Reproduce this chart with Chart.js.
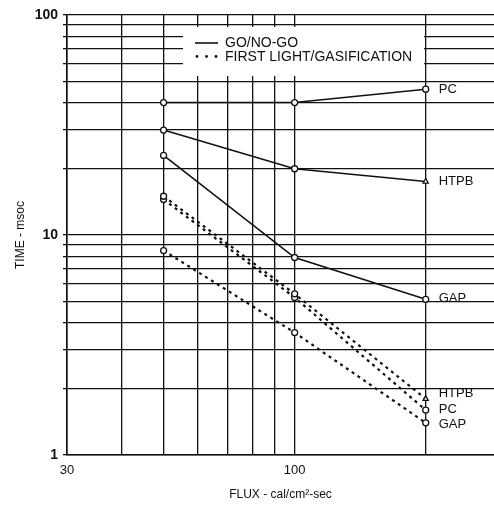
<!DOCTYPE html>
<html>
<head>
<meta charset="utf-8">
<script src="https://cdn.jsdelivr.net/npm/chart.js@4"></script>
<style>
  html, body { margin: 0; padding: 0; background: #fff; }
  canvas { display: block; }
</style>
</head>
<body>
<canvas id="fluxChart" width="494" height="506"></canvas>
<script>
// flux levels (cal/cm2-sec) where times were measured
const flux = [50, 100, 200];

// GO/NO-GO times, msec (solid lines)
const goPC = [40, 40, 46];
const goHTPB = [30, 20, 17.5];
const goGAP = [23, 7.9, 5.1];

// first light / gasification times, msec (dashed lines)
const firstHTPB = [15, 5.4, 1.8];
const firstPC = [14.5, 5.2, 1.6];
const firstGAP = [8.5, 3.6, 1.4];

// grid + tick labels
const xGridValues = [30, 40, 50, 60, 70, 80, 90, 100, 200];
const xTickLabels = [30, 100];
const yGridValues = [1, 2, 3, 4, 5, 6, 7, 8, 9, 10, 20, 30, 40, 50, 60, 70, 80, 90, 100];
const yTickLabels = [1, 10, 100];
const legendLabels = ['GO/NO-GO', 'FIRST LIGHT/GASIFICATION'];

const INK = '#111';
const FONT = '"Liberation Sans", Arial, sans-serif';

function series(name, values, dashed, dy, styles) {
  return {
    label: name,
    data: flux.map((f, i) => ({ x: f, y: values[i] })),
    borderColor: INK,
    borderWidth: dashed ? 2.2 : 1.6,
    borderDash: dashed ? [3, 4] : [],
    pointStyle: styles || 'circle',
    pointRadius: 3,
    pointBackgroundColor: '#fff',
    pointBorderColor: INK,
    pointBorderWidth: 1.3,
    fill: false,
    tension: 0,
    endLabel: name,
    labelDy: dy
  };
}

// draws the legend box and the material names at the line ends
const annotations = {
  id: 'annotations',
  beforeDatasetsDraw(chart) {
    const ctx = chart.ctx;
    ctx.save();
    ctx.fillStyle = '#fff';
    ctx.fillRect(183, 27, 241, 49);
    ctx.restore();
  },
  afterDatasetsDraw(chart) {
    const ctx = chart.ctx;
    const xs = chart.scales.x, ys = chart.scales.y;
    ctx.save();
    ctx.fillStyle = INK;
    ctx.textBaseline = 'middle';
    ctx.font = '13px ' + FONT;
    chart.data.datasets.forEach(ds => {
      const last = ds.data[ds.data.length - 1];
      ctx.fillText(ds.endLabel, xs.getPixelForValue(last.x) + 13, ys.getPixelForValue(last.y) + ds.labelDy);
    });

    // legend
    ctx.strokeStyle = INK;
    ctx.lineWidth = 1.6;
    ctx.beginPath();
    ctx.moveTo(195, 43);
    ctx.lineTo(218, 43);
    ctx.stroke();
    [197, 206.5, 216].forEach(x => {
      ctx.beginPath();
      ctx.arc(x, 56.5, 1.4, 0, Math.PI * 2);
      ctx.fill();
    });
    ctx.font = '14px ' + FONT;
    ctx.fillText(legendLabels[0], 225, 43);
    ctx.fillText(legendLabels[1], 225, 57);
    ctx.restore();
  }
};

const ctx = document.getElementById('fluxChart');
new Chart(ctx, {
  type: 'line',
  data: {
    datasets: [
      series('PC', goPC, false, 0),
      series('HTPB', goHTPB, false, 0, ['circle', 'circle', 'triangle']),
      series('GAP', goGAP, false, -1),
      series('HTPB', firstHTPB, true, -5, ['circle', 'circle', 'triangle']),
      series('PC', firstPC, true, -1),
      series('GAP', firstGAP, true, 2)
    ]
  },
  options: {
    responsive: false,
    animation: false,
    layout: { autoPadding: false, padding: { top: 15, right: 0, bottom: 0, left: 0 } },
    plugins: {
      legend: { display: false },
      tooltip: { enabled: false }
    },
    scales: {
      x: {
        type: 'logarithmic',
        min: 30,
        max: 287,
        afterBuildTicks: axis => { axis.ticks = xGridValues.map(v => ({ value: v })); },
        afterFit: axis => {
          axis.height = 51;
          axis.paddingLeft = 0;
          axis.paddingRight = 0;
        },
        ticks: {
          autoSkip: false,
          maxRotation: 0,
          padding: 8,
          color: INK,
          font: { family: FONT, size: 13 },
          callback: v => xTickLabels.includes(v) ? String(v) : ''
        },
        grid: { color: INK, lineWidth: 1.3, drawTicks: false },
        border: { color: INK, width: 1.6 },
        title: {
          display: true,
          text: 'FLUX - cal/cm²-sec',
          color: INK,
          font: { family: FONT, size: 12 },
          padding: { top: 0, bottom: 4 }
        }
      },
      y: {
        type: 'logarithmic',
        min: 1,
        max: 100,
        afterBuildTicks: axis => { axis.ticks = yGridValues.map(v => ({ value: v })); },
        afterFit: axis => { axis.width = 67; },
        ticks: {
          autoSkip: false,
          padding: 5,
          color: INK,
          font: { family: FONT, size: 14, weight: 'bold' },
          callback: v => yTickLabels.includes(v) ? String(v) : ''
        },
        grid: { color: INK, lineWidth: 1.3, tickLength: 4 },
        border: { color: INK, width: 1.6 },
        title: {
          display: true,
          text: 'TIME - msoc',
          color: INK,
          font: { family: FONT, size: 12 },
          padding: { top: 13, bottom: 0 }
        }
      }
    }
  },
  plugins: [annotations]
});
</script>
</body>
</html>
